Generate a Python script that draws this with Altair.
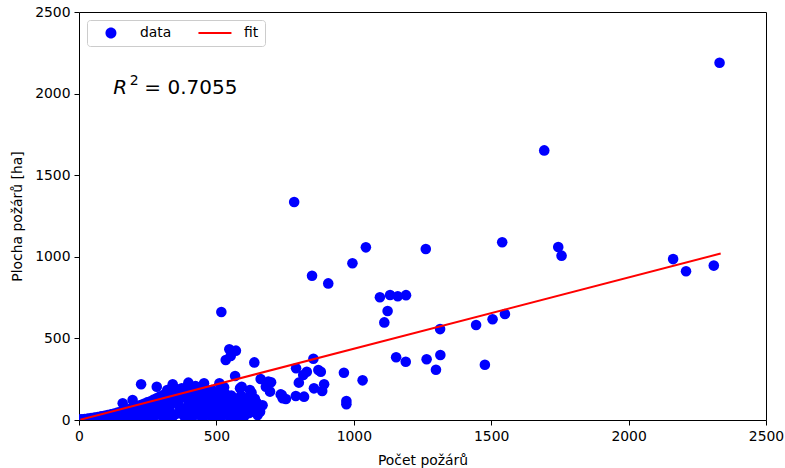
import altair as alt
import pandas as pd

# ---- scatter data (Počet požárů, Plocha požárů [ha]) ----
x_sparse = [2331, 1693, 1540, 1262, 1744, 1756, 2162, 2209, 2310,
            783, 1044, 995, 848, 907, 518,
            1095, 1132, 1160, 1190, 1123, 1111,
            1314, 1154, 1189, 1265, 1315, 1299, 1477,
            1445, 1505, 1550,
            853, 790, 829, 871, 880, 816, 800, 892, 885, 855,
            964, 1032, 973, 973,
            738, 753, 789, 819,
            547, 571, 534, 552, 638, 568, 511,
            661, 699, 680, 695, 734, 741,
            592, 622, 622, 647, 656, 620, 592, 562, 574, 525, 501, 537,
            226, 283, 159, 195, 341, 321, 398, 455, 424, 483,
            659, 616, 628, 528, 537, 586, 628, 689, 556]
y_sparse = [2189, 1652, 1089, 1048, 1060, 1007, 986, 911, 946,
            1336, 1058, 960, 884, 837, 662,
            752, 766, 758, 765, 668, 598,
            557, 384, 357, 372, 398, 308, 339,
            582, 617, 650,
            375, 317, 296, 306, 296, 276, 229, 219, 178, 194,
            290, 243, 116, 96,
            153, 129, 147, 143,
            433, 425, 368, 392, 353, 270, 225,
            251, 231, 204, 174, 157, 133,
            204, 184, 112, 106, 55, 45, 92, 112, 61, 143, 81, 51,
            219, 204, 102, 123, 219, 184, 229, 225, 208, 184,
            51, 41, 102, 200, 153, 194, 167, 235, 61]

x_dense = [3, 8, 14, 20, 26, 32, 38, 44, 50, 56, 62, 68, 74, 80, 86, 92, 98, 104,
           110, 116, 122, 128, 134, 140, 146, 152, 158, 164, 170, 176, 182, 188,
           194, 200, 206, 212, 218, 224, 230, 236, 242, 248, 254, 260, 266, 272,
           278, 284, 290, 296, 302, 308, 314, 320, 326, 332, 338, 344, 350, 356,
           362, 368, 374, 380, 386, 392, 398, 404, 410, 416, 422, 428, 434, 440,
           446, 452, 458, 464, 470, 476, 482, 488, 494, 500, 506, 512, 518, 524,
           530, 536, 542, 548, 554, 560, 566, 572, 578, 584, 590, 596, 602, 608,
           614, 620, 632, 640, 650, 668,
           150, 190, 230, 270, 310, 340, 370, 400, 420, 450, 470, 490, 510, 540,
           560, 580, 600, 300, 330, 360, 390, 430, 460, 350, 380, 410, 440, 470,
           500, 330, 300, 270, 250, 220]
y_dense = [1, 4, 2, 6, 3, 9, 5, 12, 7, 15, 4, 18, 10, 22, 8, 26, 14, 30,
           6, 35, 20, 40, 12, 45, 28, 50, 16, 58, 34, 64, 10, 70,
           42, 78, 22, 85, 50, 92, 30, 100, 60, 108, 18, 115, 70, 125,
           40, 135, 85, 145, 25, 155, 95, 160, 55, 170, 110, 178, 35, 188,
           125, 75, 195, 140, 15, 200, 100, 160, 50, 185, 120, 80, 170, 30,
           140, 95, 195, 60, 150, 110, 20, 130, 70, 170, 40, 120, 90, 30,
           165, 75, 120, 20, 150, 45, 95, 130, 15, 70, 150, 30, 105, 65,
           135, 80, 60, 130, 30, 90,
           5, 12, 8, 15, 10, 20, 40, 12, 30, 10, 40, 25, 8, 45,
           80, 40, 20, 60, 80, 100, 60, 50, 80, 140, 170, 130, 110, 180,
           140, 130, 110, 95, 75, 65]

# ---- fitted line endpoints ----
fit_x = [5, 2335]
fit_y = [2, 1020]

# ---- legend entries and annotation ----
legend_labels = ["data", "fit"]
r2_value = "0.7055"
r2_pos_x = [125]
r2_pos_y = [2000]

axis_ticks = [0, 500, 1000, 1500, 2000, 2500]

pts = pd.DataFrame({"x": x_sparse + x_dense, "y": y_sparse + y_dense})
pts["series"] = "data"
fit_df = pd.DataFrame({"x": fit_x, "y": fit_y})
txt_df = pd.DataFrame({"x": r2_pos_x, "y": r2_pos_y})

FONT = "DejaVu Sans"
FS = 13.9

xscale = alt.Scale(domain=[0, 2500], nice=False, zero=False)
yscale = alt.Scale(domain=[0, 2500], nice=False, zero=False)


def make_axis(title, tpad):
    return alt.Axis(values=axis_ticks, format="d", title=title, grid=False,
                    domain=False, tickSize=5, tickColor="black", tickWidth=1,
                    labelFont=FONT, labelFontSize=FS, labelColor="black",
                    labelPadding=4, labelFlush=False, titleFont=FONT,
                    titleFontSize=FS, titleFontWeight="normal",
                    titleColor="black", titlePadding=tpad)


X = alt.X("x:Q", scale=xscale, axis=make_axis("Počet požárů", 11))
Y = alt.Y("y:Q", scale=yscale, axis=make_axis("Plocha požárů [ha]", 10))

points = alt.Chart(pts).mark_circle(size=112, color="#0000ff", opacity=1,
                                     clip=True).encode(x=X, y=Y)

line = alt.Chart(fit_df).mark_line(color="#ff0000", strokeWidth=2,
                                    clip=True).encode(x="x:Q", y="y:Q")

circle_path = "M3,0A1,1,0,1,1,1,0A1,1,0,1,1,3,0Z"
line_path = "M-1,-0.18L5,-0.18L5,0.18L-1,0.18Z"

leg = alt.Legend(title=None, orient="top-left", direction="horizontal",
                 offset=8, padding=6, labelOffset=33, columnPadding=25,
                 symbolSize=121, symbolStrokeWidth=0, symbolOpacity=1,
                 labelFont=FONT, labelFontSize=FS, labelColor="black",
                 strokeColor="#cccccc", fillColor="white", cornerRadius=3)

legend_layer = alt.Chart(pts).transform_filter("false").mark_point(
    filled=True, size=121, opacity=1).encode(
    x="x:Q", y="y:Q",
    color=alt.Color("series:N", scale=alt.Scale(domain=legend_labels,
                                                range=["#0000ff", "#ff0000"]),
                    legend=leg),
    shape=alt.Shape("series:N", scale=alt.Scale(domain=legend_labels,
                                                range=[circle_path, line_path]),
                    legend=leg),
)

t_r = alt.Chart(txt_df).mark_text(text="R", font=FONT, fontStyle="italic",
                                  fontSize=20, align="left",
                                  baseline="alphabetic", color="black").encode(
    x="x:Q", y="y:Q")
t_2 = alt.Chart(txt_df).mark_text(text="2", font=FONT, fontSize=14,
                                  align="left", baseline="alphabetic",
                                  dx=16.5, dy=-8.6, color="black").encode(
    x="x:Q", y="y:Q")
t_eq = alt.Chart(txt_df).mark_text(text="= " + r2_value, font=FONT,
                                   fontSize=20, align="left",
                                   baseline="alphabetic", dx=31,
                                   color="black").encode(x="x:Q", y="y:Q")

chart = alt.layer(points, line, legend_layer, t_r, t_2, t_eq).properties(
    width=687, height=408,
    autosize=alt.AutoSizeParams(type="none"),
    padding={"left": 79, "top": 12, "right": 19, "bottom": 48},
    background="white",
).configure_view(stroke="black", strokeWidth=1)

chart.save("out.html", embed_options={"renderer": "svg", "actions": False})
